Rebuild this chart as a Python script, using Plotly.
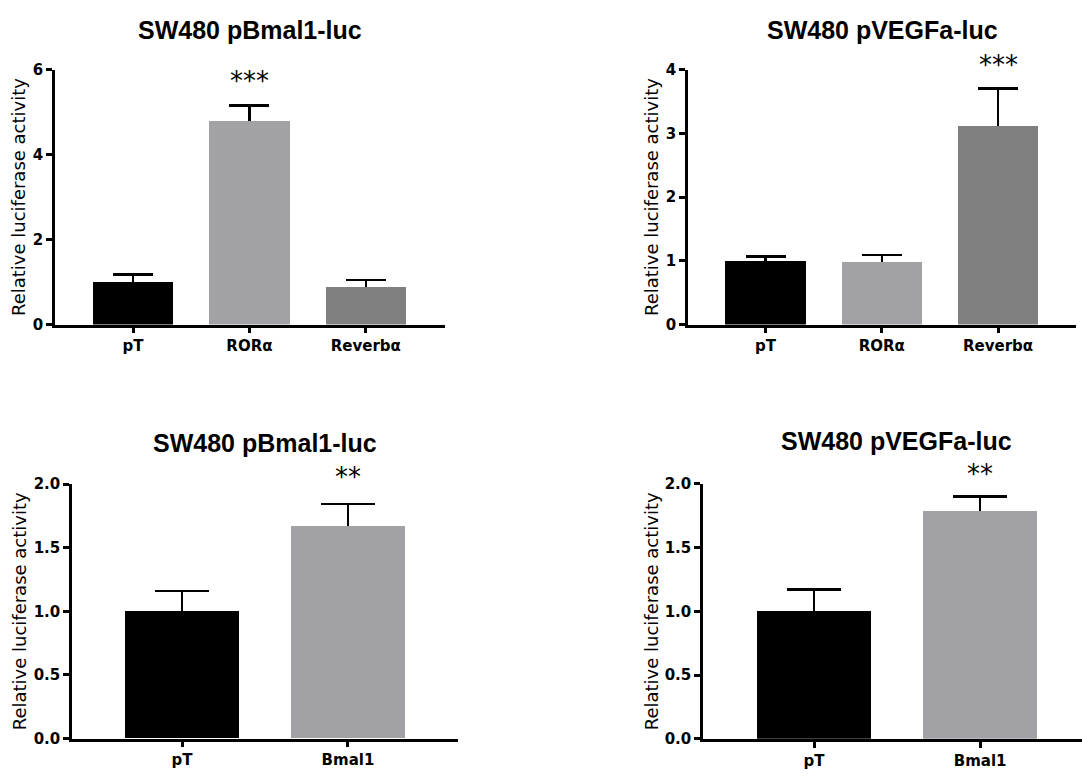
import plotly.graph_objects as go

W, H = 1082, 782

# ---- data ----
cats_top = ["pT", "RORα", "Reverbα"]
bmal_top_vals = [1.01, 4.80, 0.90]
bmal_top_err = [0.17, 0.36, 0.15]
vegf_top_vals = [1.01, 0.99, 3.12]
vegf_top_err = [0.06, 0.10, 0.58]

cats_bot = ["pT", "Bmal1"]
bmal_bot_vals = [1.005, 1.672]
bmal_bot_err = [0.155, 0.172]
vegf_bot_vals = [1.006, 1.79]
vegf_bot_err = [0.165, 0.11]

titles = ["SW480 pBmal1-luc", "SW480 pVEGFa-luc", "SW480 pBmal1-luc", "SW480 pVEGFa-luc"]
stars = ["***", "***", "**", "**"]
star_idx = [1, 2, 1, 1]
ytitle = "Relative luciferase activity"

colors_top = ["#000000", "#A2A1A6", "#808080"]
colors_bot = ["#000000", "#A2A1A6"]

TICKFONT = dict(family="DejaVu Sans", size=15, color="#000000", weight="bold")

panels = [
    dict(cats=cats_top, vals=bmal_top_vals, err=bmal_top_err, colors=colors_top,
         xd=(55, 445), yd=(62, 323), xr=(-0.67, 2.68), yr=(0, 6), dt=2, fmt="d", cap=20, sy=74, ty=21, tx=250, ax=18),
    dict(cats=cats_top, vals=vegf_top_vals, err=vegf_top_err, colors=colors_top,
         xd=(688, 1076), yd=(62, 323), xr=(-0.667, 2.67), yr=(0, 4), dt=1, fmt="d", cap=20, sy=57, ty=22, tx=882, ax=651),
    dict(cats=cats_bot, vals=bmal_bot_vals, err=bmal_bot_err, colors=colors_bot,
         xd=(72, 458), yd=(486.3, 746.7), xr=(-0.663, 1.663), yr=(0, 2), dt=0.5, fmt=".1f", cap=27, sy=479, ty=444, tx=265, ax=19),
    dict(cats=cats_bot, vals=vegf_bot_vals, err=vegf_bot_err, colors=colors_bot,
         xd=(703, 1082), yd=(486, 747), xr=(-0.669, 1.614), yr=(0, 2), dt=0.5, fmt=".1f", cap=27, sy=476, ty=442, tx=897, ax=651),
]

fig = go.Figure()
annotations = []
for i, p in enumerate(panels):
    n = "" if i == 0 else str(i + 1)
    xa, ya = "x" + n, "y" + n
    xidx = list(range(len(p["cats"])))
    # error bars (symmetric), drawn first and then covered by the bars
    fig.add_trace(go.Bar(x=xidx, y=p["vals"], xaxis=xa, yaxis=ya, width=0.69,
                         marker=dict(color="rgba(0,0,0,0)", line=dict(width=0)),
                         error_y=dict(type="data", array=p["err"], symmetric=True,
                                      color="#000000", thickness=2.5, width=p["cap"]),
                         showlegend=False, hoverinfo="skip"))
    fig.add_trace(go.Bar(x=xidx, y=p["vals"], xaxis=xa, yaxis=ya, width=0.69,
                         marker=dict(color=p["colors"], line=dict(width=0)),
                         showlegend=False))
    xkey = "xaxis" + n
    ykey = "yaxis" + n
    fig.layout[xkey] = dict(
        domain=[p["xd"][0] / W, p["xd"][1] / W], range=list(p["xr"]), anchor=ya,
        tickmode="array", tickvals=xidx, ticktext=p["cats"],
        showline=True, linecolor="#000000", linewidth=2.5,
        ticks="outside", ticklen=6, tickwidth=2.5, tickcolor="#000000",
        showgrid=False, zeroline=False, tickfont=TICKFONT, fixedrange=True)
    fig.layout[ykey] = dict(
        domain=[1 - p["yd"][1] / H, 1 - p["yd"][0] / H], range=list(p["yr"]), anchor=xa,
        dtick=p["dt"], tick0=0, tickformat=p["fmt"],
        showline=True, linecolor="#000000", linewidth=2.5,
        ticks="outside", ticklen=6, tickwidth=2.5, tickcolor="#000000",
        showgrid=False, zeroline=False, tickfont=TICKFONT, fixedrange=True)
    # title
    annotations.append(dict(text=titles[i], x=p["tx"] / W, y=1 - p["ty"] / H, xref="paper", yref="paper",
                            xanchor="center", yanchor="middle", showarrow=False, borderpad=0,
                            font=dict(family="Liberation Sans", size=25, color="#000000", weight="bold")))
    # y title
    annotations.append(dict(text=ytitle, x=p["ax"] / W, y=1 - (p["yd"][0] + p["yd"][1]) / 2 / H,
                            xref="paper", yref="paper", textangle=-90, borderpad=0,
                            xanchor="center", yanchor="middle", showarrow=False,
                            font=dict(family="DejaVu Sans", size=18, color="#000000")))
    # significance stars
    annotations.append(dict(text=stars[i], x=star_idx[i], y=1 - p["sy"] / H, xref=xa, yref="paper",
                            xanchor="center", yanchor="middle", showarrow=False, borderpad=0,
                            font=dict(family="DejaVu Sans", size=26, color="#000000")))

fig.update_layout(width=W, height=H, margin=dict(l=0, r=0, t=0, b=0),
                  paper_bgcolor="white", plot_bgcolor="white",
                  barmode="overlay", bargap=0, annotations=annotations)

fig.write_html("out.html", config={"displayModeBar": False})
